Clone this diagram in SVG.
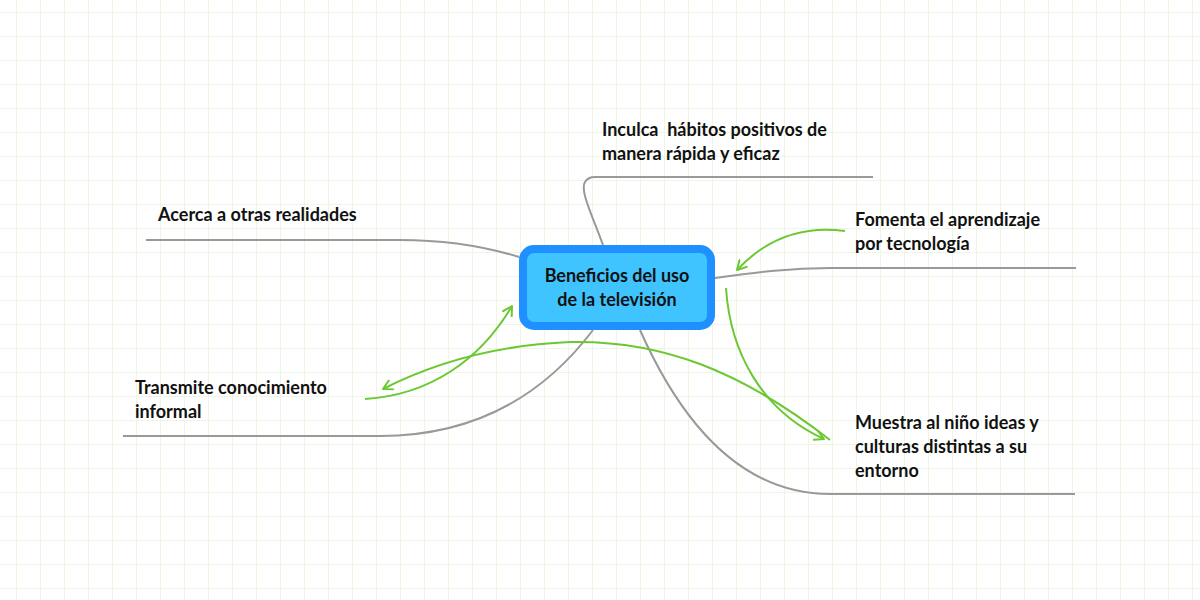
<svg xmlns="http://www.w3.org/2000/svg" width="1200" height="600" viewBox="0 0 1200 600">
<defs>
<pattern id="grid" x="16" y="12" width="24" height="24" patternUnits="userSpaceOnUse">
<path d="M0 0H24M0 0V24" fill="none" stroke="#eef5e4" stroke-width="2"/>
</pattern>
<marker id="ah" viewBox="0 0 12 12" refX="10" refY="6" markerWidth="12" markerHeight="12" markerUnits="userSpaceOnUse" orient="auto">
<path d="M1 1L10 6L1 11" fill="none" stroke="#6cc832" stroke-width="2" stroke-linecap="round" stroke-linejoin="round"/>
</marker>
<style>
.b{fill:none;stroke:#999;stroke-width:2}
.g{fill:none;stroke:#6cc832;stroke-width:2;marker-end:url(#ah)}
text{font-family:"Lato","Liberation Sans",sans-serif;font-weight:bold;font-size:18px;fill:#111}
</style>
</defs>
<rect width="1200" height="600" fill="#fff"/>
<rect width="1200" height="600" fill="url(#grid)"/>
<g id="connectors">
<path class="b" d="M603 245C590 210 580 190 585 182Q588 177 595 177H873"/>
<path class="b" d="M519 257C480 245 440 240 400 240H146"/>
<path class="b" d="M715 278C760 272 790 268 830 268H1076"/>
<path class="b" d="M593 330C540 400 470 436 380 436H123"/>
<path class="b" d="M640 330C680 420 740 494 830 494H1075"/>
<path class="g" d="M845 231C800 225 765 240 737 270"/>
<path class="g" d="M726 288C730 350 760 410 824 439"/>
<path class="g" d="M365 399C430 395 480 360 512 306"/>
<path class="g" d="M830 440C740 370 660 340 570 342C500 345 440 360 383 389"/>
</g>
<g id="center">
<rect x="523" y="249" width="188" height="77" rx="11" fill="#40c4ff" stroke="#1e90ff" stroke-width="8"/>
<text x="617" y="282" text-anchor="middle">Beneficios del uso</text>
<text x="617" y="306" text-anchor="middle">de la televisión</text>
</g>
<g id="n1"><text x="602" y="136" xml:space="preserve">Inculca  hábitos positivos de</text><text x="602" y="160">manera rápida y eficaz</text></g>
<g id="n2"><text x="158" y="221">Acerca a otras realidades</text></g>
<g id="n3"><text x="855" y="226">Fomenta el aprendizaje</text><text x="855" y="250">por tecnología</text></g>
<g id="n4"><text x="135" y="394">Transmite conocimiento</text><text x="135" y="418">informal</text></g>
<g id="n5"><text x="855" y="429">Muestra al niño ideas y</text><text x="855" y="453">culturas distintas a su</text><text x="855" y="477">entorno</text></g>
</svg>
